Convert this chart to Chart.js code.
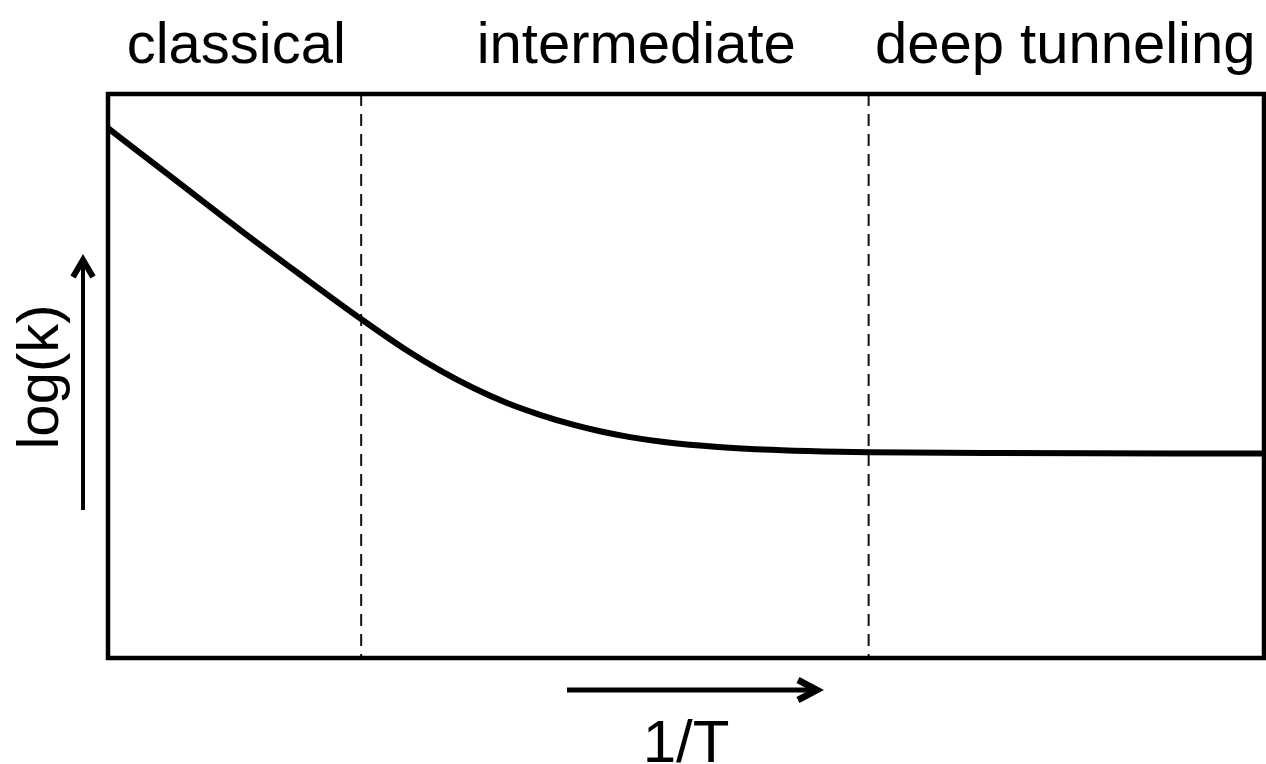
<!DOCTYPE html>
<html>
<head>
<meta charset="utf-8">
<script src="https://cdn.jsdelivr.net/npm/chart.js@4"></script>
<style>
  html, body { margin: 0; padding: 0; background: #fff; }
  #wrap { width: 1266px; height: 764px; position: relative; }
</style>
</head>
<body>
<div id="wrap"><canvas id="rateChart"></canvas></div>
<script>
// 1/T (arbitrary units, 0..100) and log(k)
const invT = [0, 5.36, 11.42, 16.61, 21.89, 25.87, 28.72, 31.57, 34.52, 37.37, 40.22, 42.56, 45.16, 48.27, 52.77, 57.35, 61.85, 65.83, 77.16, 100];
const logK = [93.94, 85.48, 75.92, 68.0, 60.11, 54.52, 50.98, 47.91, 45.21, 43.12, 41.37, 40.2, 39.16, 38.26, 37.43, 36.91, 36.61, 36.47, 36.33, 36.26];

// regime boundaries on the 1/T axis
const boundaries = [21.9, 65.8];
const regimeNames = ['classical', 'intermediate', 'deep tunneling'];
const regimeLabelX = [11.1, 45.7, 82.8];
const xTitle = '1/T';
const yTitle = 'log(k)';

const FONT = '"Liberation Sans", Arial, Helvetica, sans-serif';

document.addEventListener('DOMContentLoaded', function() {
  const ctx = document.getElementById('rateChart').getContext('2d');

  const curve = invT.map((x, i) => ({ x: x, y: logK[i] }));

  const dashSets = boundaries.map(b => ({
    data: [{ x: b, y: 100 }, { x: b, y: 0 }],
    borderColor: '#111',
    borderWidth: 2,
    borderDash: [12, 8],
    pointRadius: 0,
    tension: 0,
    fill: false
  }));

  function arrowHead(c, tipX, tipY, dir) {
    // dir: 'right' or 'up'
    c.beginPath();
    if (dir === 'right') {
      c.moveTo(tipX - 19, tipY - 10);
      c.lineTo(tipX, tipY);
      c.lineTo(tipX - 19, tipY + 10);
    } else {
      c.moveTo(tipX - 10, tipY + 17);
      c.lineTo(tipX, tipY);
      c.lineTo(tipX + 10, tipY + 17);
    }
    c.stroke();
  }

  const decorations = {
    id: 'decorations',
    afterDatasetsDraw(chart) {
      const c = chart.ctx;
      const area = chart.chartArea;
      const xs = chart.scales.x;

      c.save();
      // frame
      c.strokeStyle = '#000';
      c.lineWidth = 4.5;
      c.strokeRect(area.left, area.top, area.right - area.left, area.bottom - area.top);

      // regime labels
      c.fillStyle = '#000';
      c.font = '58px ' + FONT;
      c.textAlign = 'center';
      c.textBaseline = 'alphabetic';
      regimeNames.forEach((name, i) => {
        c.fillText(name, xs.getPixelForValue(regimeLabelX[i]), 63);
      });

      // x arrow + title
      c.lineWidth = 5;
      c.lineJoin = 'miter';
      c.lineCap = 'butt';
      c.beginPath();
      c.moveTo(567, 690);
      c.lineTo(814, 690);
      c.stroke();
      c.lineWidth = 6.5;
      arrowHead(c, 817, 690, 'right');

      c.font = '60px ' + FONT;
      c.fillText(xTitle, 686, 762);

      // y arrow + title
      c.lineWidth = 4;
      c.beginPath();
      c.moveTo(83, 510);
      c.lineTo(83, 263);
      c.stroke();
      c.lineWidth = 6;
      arrowHead(c, 83, 260, 'up');

      c.translate(58, 377);
      c.rotate(-Math.PI / 2);
      c.font = '58px ' + FONT;
      c.fillText(yTitle, 0, 0);
      c.restore();
    }
  };

  new Chart(ctx, {
    type: 'line',
    data: {
      datasets: [{
        data: curve,
        borderColor: '#000',
        borderWidth: 6,
        pointRadius: 0,
        cubicInterpolationMode: 'monotone',
        fill: false
      }].concat(dashSets)
    },
    options: {
      responsive: true,
      maintainAspectRatio: false,
      animation: false,
      layout: { padding: { left: 108, top: 94, right: 2, bottom: 106 } },
      plugins: {
        legend: { display: false },
        tooltip: { enabled: false }
      },
      scales: {
        x: { type: 'linear', min: 0, max: 100, display: false },
        y: { type: 'linear', min: 0, max: 100, display: false }
      }
    },
    plugins: [decorations]
  });
});
</script>
</body>
</html>
